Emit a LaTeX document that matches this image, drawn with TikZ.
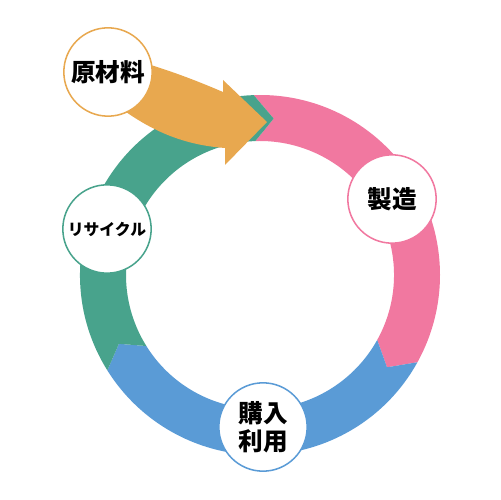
\documentclass[tikz,border=0pt]{standalone}
\usepackage{fontspec}
\setmainfont{Noto Sans CJK JP}
\usetikzlibrary{positioning,backgrounds}
\definecolor{makec}{HTML}{F178A0}
\definecolor{buyc}{HTML}{5A9BD6}
\definecolor{recyclec}{HTML}{48A38C}
\definecolor{rawc}{HTML}{E8A84F}
\tikzstyle{stage} = [circle, fill=white, line width=1.3pt, minimum size=2.65cm, inner sep=0pt, align=center, font=\bfseries\fontsize{21}{24}\selectfont]

\begin{document}
\begin{tikzpicture}[scale=0.03]
\useasboundingbox (0,0) rectangle (500,500);

\node (raw) [stage, draw=rawc] at (108,428) {原材料};
\node (make) [stage, draw=makec] at (392,301) {製造};
\node (recycle) [stage, draw=recyclec, font=\bfseries\fontsize{13.5}{16}\selectfont] at (107,271) {リサイクル};
\node (buy) [stage, draw=buyc] at (263,73) {購入\\利用};
\coordinate (tip) at (267,378);

\begin{pgfonlayer}{background}
% ring
\begin{scope}[shift={(260,225)}]
\fill[makec] (92:180) arc[start angle=92, end angle=-29, radius=180] -- (-36:157) -- (-29:134)
  arc[start angle=-29, end angle=92, radius=134] -- (85:157) -- cycle;
\fill[buyc] (-29:180) arc[start angle=-29, end angle=-148, radius=180] -- (-154:157) -- (-148:134)
  arc[start angle=-148, end angle=-29, radius=134] -- (-36:157) -- cycle;
\fill[recyclec] (212:180) arc[start angle=212, end angle=92, radius=180] -- (85:157) -- (92:134)
  arc[start angle=92, end angle=212, radius=134] -- (206:157) -- cycle;
\end{scope}
% raw material arrow
\fill[rawc] (raw.center) -- (106,447) .. controls (155,436) and (195,420) .. (223,408) -- (223,420) -- (tip)
  -- (225,335) -- (225,352) .. controls (185,355) and (150,368) .. (110,400) -- cycle;
\end{pgfonlayer}
\end{tikzpicture}
\end{document}
